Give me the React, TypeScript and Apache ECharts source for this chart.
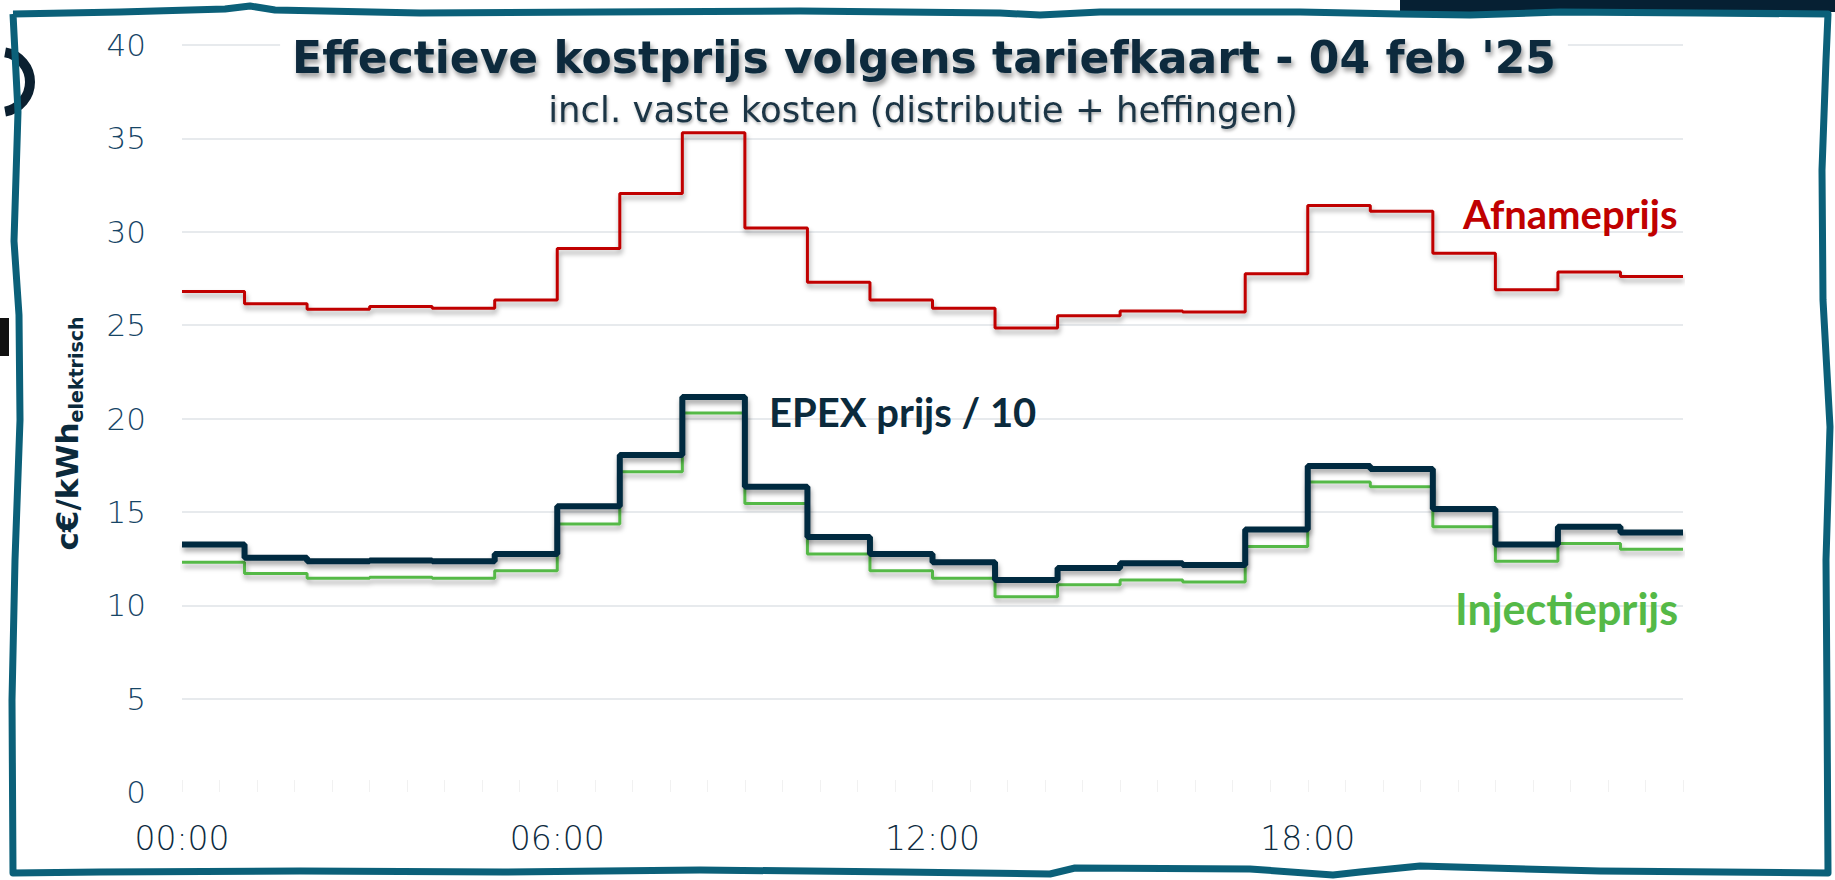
import React, { useEffect, useRef } from "react";
import * as echarts from "echarts";

// ---- data (hourly values, c€/kWh) ----
const hourTickLabels = ["00:00", "06:00", "12:00", "18:00"];
const afnameprijs = [26.8, 26.15, 25.85, 26.0, 25.9, 26.35, 29.1, 32.05, 35.3, 30.2, 27.3, 26.35, 25.9, 24.85, 25.5, 25.75, 25.7, 27.75, 31.4, 31.1, 28.85, 26.9, 27.85, 27.6];
const epexDiv10 = [13.25, 12.55, 12.35, 12.4, 12.35, 12.75, 15.3, 18.05, 21.15, 16.35, 13.65, 12.75, 12.3, 11.35, 12.0, 12.25, 12.15, 14.05, 17.45, 17.3, 15.15, 13.25, 14.2, 13.9];
const injectieprijs = [12.3, 11.7, 11.45, 11.5, 11.45, 11.85, 14.35, 17.15, 20.3, 15.45, 12.75, 11.85, 11.45, 10.45, 11.1, 11.35, 11.25, 13.15, 16.6, 16.35, 14.2, 12.35, 13.3, 13.0];

const titleText = "Effectieve kostprijs volgens tariefkaart - 04 feb '25";
const subtitleText = "incl. vaste kosten (distributie + heffingen)";

const toSteps = (vals: number[]) => {
  const pts: [number, number][] = vals.map((v, i) => [i, v]);
  pts.push([vals.length, vals[vals.length - 1]]);
  return pts;
};

const FRAME = "#0b6079";
const NAVY = "#0b2a3c";

const framePoints: number[][] = [
  [13, 14], [120, 12], [225, 9], [250, 6], [275, 10], [420, 13], [600, 12], [800, 11], [1000, 13], [1040, 15], [1100, 12],
  [1300, 12], [1400, 14], [1470, 15], [1560, 12], [1700, 13], [1828, 14],
  [1826, 60], [1822, 170], [1823, 300], [1830, 427], [1826, 560], [1827, 700], [1828, 873],
  [1600, 871], [1420, 866], [1360, 872], [1333, 875], [1250, 869], [1075, 868], [1050, 874], [900, 872], [700, 870], [503, 872], [300, 871], [100, 872], [13, 873],
  [12, 700], [15, 560], [20, 420], [19, 315], [14, 241], [18, 112], [13, 14]
];

export default function App() {
  const ref = useRef<HTMLDivElement>(null);
  useEffect(() => {
    if (!ref.current) return;
    const chart = echarts.init(ref.current, undefined, { renderer: "svg" });
    const shadow = {
      shadowColor: "rgba(0,0,0,0.35)",
      shadowBlur: 5,
      shadowOffsetX: 1,
      shadowOffsetY: 4,
    };
    const labelFont = (size: number) => `bold ${size}px Lato`;
    chart.setOption({
      animation: false,
      backgroundColor: "#ffffff",
      title: [
        {
          text: titleText,
          left: 912,
          top: 29,
          textAlign: "center",
          backgroundColor: "#ffffff",
          padding: [6, 12, 6, 12],
          textStyle: {
            fontFamily: "DejaVu Sans",
            fontWeight: "bold",
            fontSize: 44,
            color: NAVY,
            textShadowColor: "rgba(0,0,0,0.4)",
            textShadowBlur: 5,
            textShadowOffsetX: 2,
            textShadowOffsetY: 4,
          },
        },
        {
          text: subtitleText,
          left: 923,
          top: 91,
          textAlign: "center",
          padding: 0,
          textStyle: {
            fontFamily: "DejaVu Sans",
            fontWeight: "normal",
            fontSize: 35.5,
            color: "#1a3445",
            textShadowColor: "rgba(0,0,0,0.3)",
            textShadowBlur: 3,
            textShadowOffsetX: 1,
            textShadowOffsetY: 2,
          },
        },
      ],
      grid: { left: 182, right: 152, top: 45, bottom: 88, containLabel: false },
      xAxis: {
        type: "value",
        min: 0,
        max: 24,
        interval: 6,
        axisLine: { show: true, lineStyle: { color: "#ffffff", width: 3 } },
        axisTick: { show: true, inside: true, length: 12, lineStyle: { color: "#f1f1f1" } },
        minorTick: { show: true, splitNumber: 10, length: 12, lineStyle: { color: "#f1f1f1" } },
        splitLine: { show: false },
        axisLabel: {
          margin: 30,
          fontFamily: "DejaVu Sans",
          fontWeight: 200,
          fontSize: 33,
          color: "#0d2b3e",
          formatter: (v: number) => hourTickLabels[v / 6] ?? "",
        },
      },
      yAxis: {
        type: "value",
        min: 0,
        max: 40,
        interval: 5,
        axisLine: { show: false },
        axisTick: { show: false },
        splitLine: { show: true, lineStyle: { color: "#e7eaed", width: 2 } },
        axisLabel: {
          margin: 36,
          fontFamily: "DejaVu Sans",
          fontWeight: 200,
          fontSize: 31,
          color: "#164566",
        },
        name: "{a|c€/kWh}{b|elektrisch}",
        nameLocation: "middle",
        nameRotate: 90,
        nameGap: 100,
        nameTextStyle: {
          padding: [0, 30, 0, 0],
          rich: {
            a: { fontFamily: "DejaVu Sans", fontWeight: "bold", fontSize: 31, lineHeight: 31, color: NAVY, verticalAlign: "top" },
            b: { fontFamily: "DejaVu Sans", fontWeight: "bold", fontSize: 19, lineHeight: 19, color: NAVY, verticalAlign: "top", padding: [15, 0, 0, 0] },
          },
        },
      },
      series: [
        {
          name: "Afnameprijs",
          type: "line",
          step: "end",
          showSymbol: false,
          data: toSteps(afnameprijs),
          lineStyle: { color: "#c00000", width: 3, ...shadow },
          z: 3,
        },
        {
          name: "Injectieprijs",
          type: "line",
          step: "end",
          showSymbol: false,
          data: toSteps(injectieprijs),
          lineStyle: { color: "#55b947", width: 3, ...shadow },
          z: 3,
        },
        {
          name: "EPEX prijs / 10",
          type: "line",
          step: "end",
          showSymbol: false,
          data: toSteps(epexDiv10),
          lineStyle: { color: "#062a3f", width: 6, ...shadow },
          z: 4,
        },
      ],
      graphic: [
        { type: "rect", x: 1400, y: 0, z: 0, shape: { width: 435, height: 12 }, style: { fill: "#062033" } },
        { type: "arc", x: 0, y: 82, z: 0, shape: { cx: 0, cy: 0, r: 30, startAngle: -1.4, endAngle: 1.4 }, style: { stroke: "#0b2030", lineWidth: 10, fill: "none" } },
        { type: "rect", x: 0, y: 318, z: 0, shape: { width: 9, height: 38 }, style: { fill: "#111111" } },
        {
          type: "polyline",
          z: 100,
          shape: { points: framePoints },
          style: { stroke: FRAME, lineWidth: 7, fill: "none", lineJoin: "round" },
        },
        {
          type: "text",
          x: 769,
          y: 412,
          z: 50,
          style: { text: "EPEX prijs / 10", fill: NAVY, font: labelFont(40), align: "left", verticalAlign: "middle", textAlign: "left", textVerticalAlign: "middle" },
        },
        {
          type: "text",
          x: 1463,
          y: 214,
          z: 50,
          style: { text: "Afnameprijs", fill: "#c00000", font: labelFont(40), align: "left", verticalAlign: "middle", textAlign: "left", textVerticalAlign: "middle" },
        },
        {
          type: "text",
          x: 1455,
          y: 608,
          z: 50,
          style: { text: "Injectieprijs", fill: "#55b947", font: labelFont(43), align: "left", verticalAlign: "middle", textAlign: "left", textVerticalAlign: "middle" },
        },
      ],
    });
    return () => chart.dispose();
  }, []);
  return <div ref={ref} style={{ position: "absolute", left: 0, top: 0, width: 1835, height: 880 }} />;
}
